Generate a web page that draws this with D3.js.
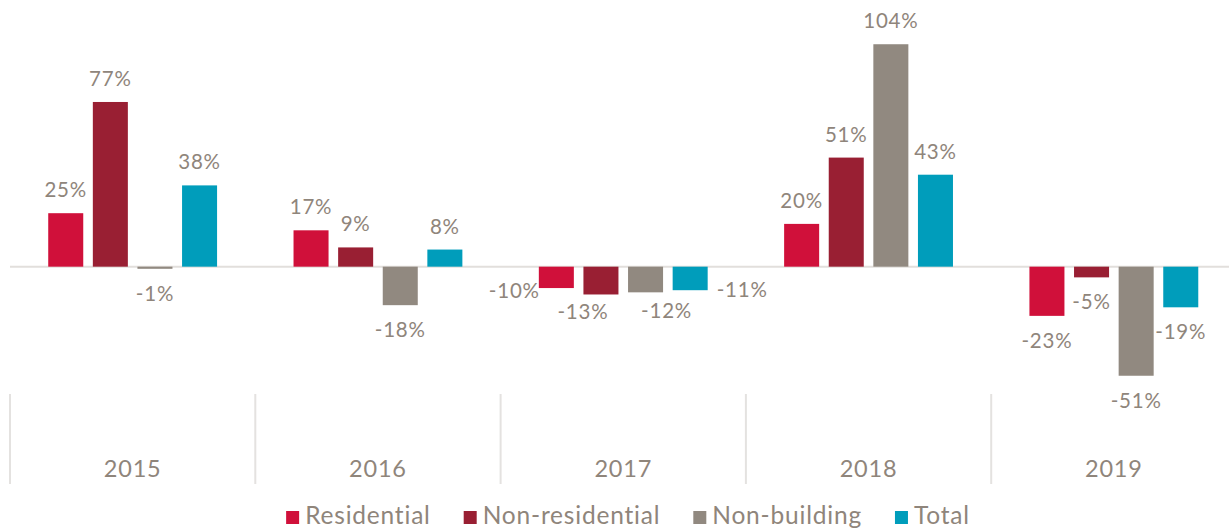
<!DOCTYPE html>
<html>
<head>
<meta charset="utf-8">
<script src="https://cdn.jsdelivr.net/npm/d3@7"></script>
<style>
  body { margin: 0; background: #fff; }
  svg text { font-family: "Lato", "Open Sans", sans-serif; font-weight: 400; fill: #8f857b; letter-spacing: 0.8px; }
</style>
</head>
<body>
<svg id="chart" width="1229" height="530"></svg>
<script>
// data
var years = ["2015", "2016", "2017", "2018", "2019"];
var seriesNames = ["Residential", "Non-residential", "Non-building", "Total"];
var residential    = [25, 17, -10, 20, -23];
var nonResidential = [77, 9, -13, 51, -5];
var nonBuilding    = [-1, -18, -12, 104, -51];
var total          = [38, 8, -11, 43, -19];

var colors = ["#d0103a", "#991f33", "#918980", "#009dbb"];

// label placement tweaks for crowded 2017 group (year, series) -> where
var labelPlace = {
    "2017|Residential": "left",
    "2017|Non-residential": "below-left",
    "2017|Non-building": "below-right",
    "2017|Total": "right"
};

var svg = d3.select("#chart");

var x0 = d3.scaleBand()
    .domain(years)
    .range([10, 1236.5])
    .paddingInner(0)
    .paddingOuter(0);

var x1 = d3.scaleBand()
    .domain(seriesNames)
    .range([0, x0.bandwidth()])
    .paddingInner(0.215)
    .paddingOuter(0.857);

var y = d3.scaleLinear()
    .domain([-60, 110])
    .range([395, 31.4]);

var allSeries = [residential, nonResidential, nonBuilding, total];
var data = [];
years.forEach(function(yr, i) {
    seriesNames.forEach(function(s, j) {
        data.push({ year: yr, series: s, value: allSeries[j][i], color: colors[j] });
    });
});

// zero line
svg.append("line")
    .attr("x1", 10).attr("x2", 1229)
    .attr("y1", y(0)).attr("y2", y(0))
    .attr("stroke", "#e2dfdc")
    .attr("stroke-width", 2);

// bars
svg.selectAll("rect.bar")
    .data(data)
    .enter()
    .append("rect")
    .attr("class", "bar")
    .attr("x", function(d) { return x0(d.year) + x1(d.series); })
    .attr("y", function(d) { return d.value >= 0 ? y(d.value) : y(0); })
    .attr("width", x1.bandwidth())
    .attr("height", function(d) { return Math.abs(y(d.value) - y(0)); })
    .attr("fill", function(d) { return d.color; });

// value labels
svg.selectAll("text.val")
    .data(data)
    .enter()
    .append("text")
    .attr("class", "val")
    .style("font-size", "20.5px")
    .each(function(d) {
        var t = d3.select(this);
        var bx = x0(d.year) + x1(d.series);
        var cx = bx + x1.bandwidth() / 2;
        var place = labelPlace[d.year + "|" + d.series];
        var ty, tx = cx, anchor = "middle";
        if (d.value >= 0) {
            ty = y(d.value) - 16;
        } else {
            ty = y(d.value) + 32;
        }
        if (place === "left") {
            tx = bx + 1; anchor = "end"; ty = y(d.value) + 10;
        } else if (place === "right") {
            tx = bx + x1.bandwidth() + 9; anchor = "start"; ty = y(d.value) + 7;
        } else if (place === "below-left") {
            tx = cx - 18; ty = y(d.value) + 25;
        } else if (place === "below-right") {
            tx = cx + 21; ty = y(d.value) + 26;
        }
        t.attr("x", tx).attr("y", ty).attr("text-anchor", anchor)
            .text(d.value + "%");
    });

// category axis: dividers
var dividers = years.map(function(yr) { return x0(yr); });
dividers.push(x0(years[years.length - 1]) + x0.bandwidth());
svg.selectAll("line.div")
    .data(dividers)
    .enter()
    .append("line")
    .attr("class", "div")
    .attr("x1", function(d) { return d; })
    .attr("x2", function(d) { return d; })
    .attr("y1", 394).attr("y2", 484)
    .attr("stroke", "#e4e2e0")
    .attr("stroke-width", 2);

svg.selectAll("text.year")
    .data(years)
    .enter()
    .append("text")
    .attr("class", "year")
    .attr("x", function(d) { return x0(d) + x0.bandwidth() / 2; })
    .attr("y", 477)
    .attr("text-anchor", "middle")
    .style("font-size", "23.5px")
    .text(function(d) { return d; });

// legend
var legend = svg.append("g");
var items = legend.selectAll("g")
    .data(seriesNames)
    .enter()
    .append("g");
items.append("rect")
    .attr("width", 13).attr("height", 13)
    .attr("y", 511)
    .attr("fill", function(d, i) { return colors[i]; });
items.append("text")
    .attr("x", 19)
    .attr("y", 524)
    .style("font-size", "24.5px")
    .text(function(d) { return d; });

var pos = 0;
items.each(function() {
    var g = d3.select(this);
    g.attr("transform", "translate(" + pos + ",0)");
    pos += 19 + g.select("text").node().getComputedTextLength() + 33;
});
var legendWidth = pos - 33;
legend.attr("transform", "translate(" + (628 - legendWidth / 2) + ",0)");
</script>
</body>
</html>
